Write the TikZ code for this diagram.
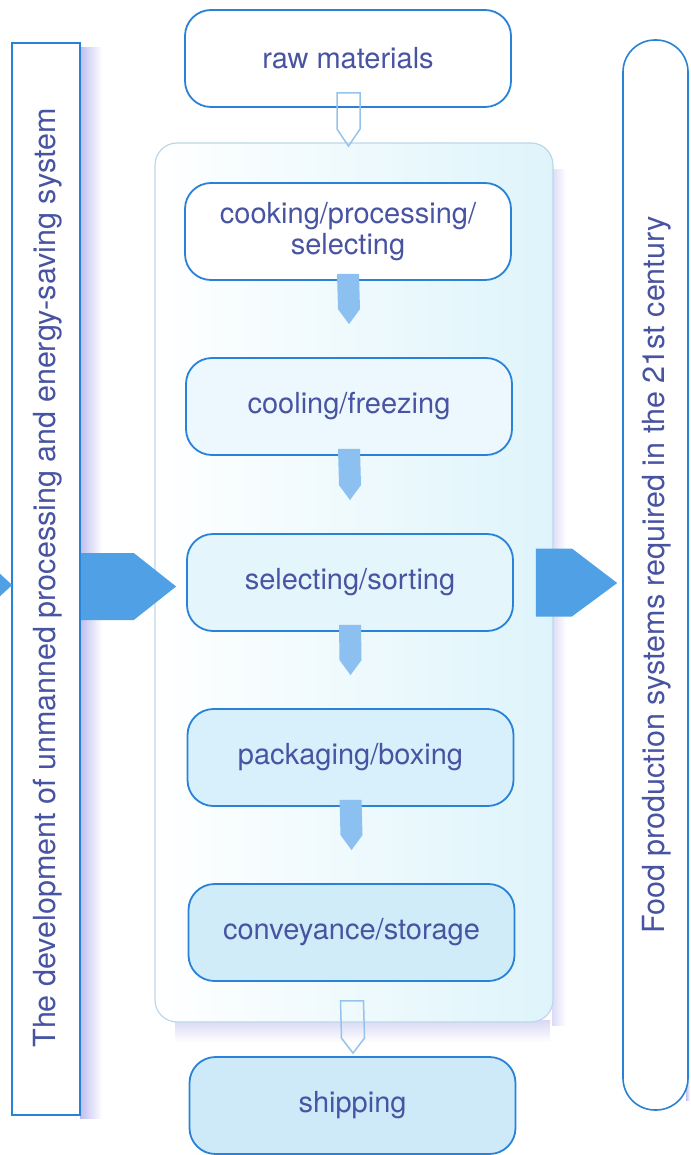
\documentclass[tikz,border=0pt]{standalone}
\usepackage{fontspec}
\setmainfont{TeX Gyre Heros}
\usetikzlibrary{calc}
\definecolor{bord}{RGB}{40,130,215}
\definecolor{txt}{RGB}{72,84,162}
\definecolor{bigarrow}{RGB}{80,160,230}
\definecolor{smallarrow}{RGB}{140,192,240}
\definecolor{hollow}{RGB}{150,195,235}
\definecolor{contbord}{RGB}{190,215,232}
\definecolor{contfill}{RGB}{222,244,251}
\definecolor{shadowc}{RGB}{190,190,240}
\definecolor{fillA}{RGB}{255,255,255}
\definecolor{fillB}{RGB}{236,248,253}
\definecolor{fillC}{RGB}{228,245,252}
\definecolor{fillD}{RGB}{216,240,251}
\definecolor{fillE}{RGB}{208,236,249}
\definecolor{fillF}{RGB}{206,234,248}
\tikzset{
  stepbox/.style={draw=bord, line width=1.8pt, rounded corners=26pt, minimum width=326pt,
    minimum height=97pt, text=txt, align=center, font=\fontsize{29}{31}\selectfont},
  sidetext/.style={text=txt, font=\fontsize{30.5}{32}\selectfont, rotate=90},
}
\newcommand\solidarrow[2]{%
  \fill[smallarrow] ($(#1.south)+(-11,-7)$) -- ($(#1.south)+(11,-7)$)
    -- ($(#2.north)+(11,-48)$) -- ($(#2.north)+(0,-33)$) -- ($(#2.north)+(-11,-48)$) -- cycle;}
\begin{document}
\begin{tikzpicture}[x=1pt,y=-1pt]
\useasboundingbox (0,0) rectangle (690,1155);
% shadows
\shade[left color=shadowc, right color=white] (80,48) rectangle (102,1118);
\shade[left color=shadowc, right color=white] (686,70) rectangle (690,1100);
\shade[top color=shadowc!60, bottom color=white] (175,1020) rectangle (550,1042);
\shade[left color=shadowc!55, right color=white] (552,170) rectangle (566,1025);
% container
\node[draw=contbord, line width=1.2pt, rounded corners=22pt, minimum width=398pt, minimum height=879pt,
  left color=white, right color=contfill] (cont) at (354,582.5) {};
% side panels
\node[draw=bord, line width=1.6pt, fill=white, minimum width=68pt, minimum height=1072pt] (left) at (46,579) {};
\node[sidetext] (lefttext) at (48,578) {The development of unmanned processing and energy-saving system};
\node[draw=bord, line width=1.6pt, fill=white, rounded corners=32pt, minimum width=65pt, minimum height=1070pt] (right) at (655.5,575) {};
\node[sidetext] (righttext) at (657,575) {Food production systems required in the 21st century};
% boxes
\node[stepbox, fill=fillA] (raw) at (348,58.5) {raw materials};
\node[stepbox, fill=fillA] (cook) at (348,231.5) {cooking/processing/\\selecting};
\node[stepbox, fill=fillB] (cool) at (349,406.5) {cooling/freezing};
\node[stepbox, fill=fillC] (sel) at (350,582.5) {selecting/sorting};
\node[stepbox, fill=fillD] (pack) at (350.5,757.5) {packaging/boxing};
\node[stepbox, fill=fillE] (conv) at (351.5,932.5) {conveyance/storage};
\node[stepbox, fill=fillF] (ship) at (352.5,1105.5) {shipping};
% hollow arrows
\draw[hollow, line width=1.5pt, line join=miter]
  ($(raw.south)+(-11,-15)$) -- ($(raw.south)+(12,-15)$) -- ($(cook.north)+(12,-53)$)
  -- ($(cook.north)+(0.5,-36)$) -- ($(cook.north)+(-11,-53)$) -- cycle;
\draw[hollow, line width=1.5pt, line join=miter]
  ($(conv.south)+(-11,19)$) -- ($(conv.south)+(12,19)$) -- ($(ship.north)+(12,-18)$)
  -- ($(ship.north)+(0.5,-3)$) -- ($(ship.north)+(-11,-18)$) -- cycle;
% solid arrows
\solidarrow{cook}{cool}
\solidarrow{cool}{sel}
\solidarrow{sel}{pack}
\solidarrow{pack}{conv}
% big arrows
\fill[bigarrow] ($(left.east)+(0,-26)$) -- ($(left.east)+(53,-26)$) -- ($(sel.west)+(-10,4)$)
  -- ($(left.east)+(53,41)$) -- ($(left.east)+(0,41)$) -- cycle;
\fill[bigarrow] ($(sel.east)+(22,-34)$) -- ($(sel.east)+(58,-34)$) -- ($(right.west)+(-5,8)$)
  -- ($(sel.east)+(58,34)$) -- ($(sel.east)+(22,34)$) -- cycle;
% partial arrow entering the left panel
\fill[bigarrow] ($(left.west)+(-12,-6)$) -- ($(left.west)+(1,6)$) -- ($(left.west)+(-12,18)$) -- cycle;
\end{tikzpicture}
\end{document}
